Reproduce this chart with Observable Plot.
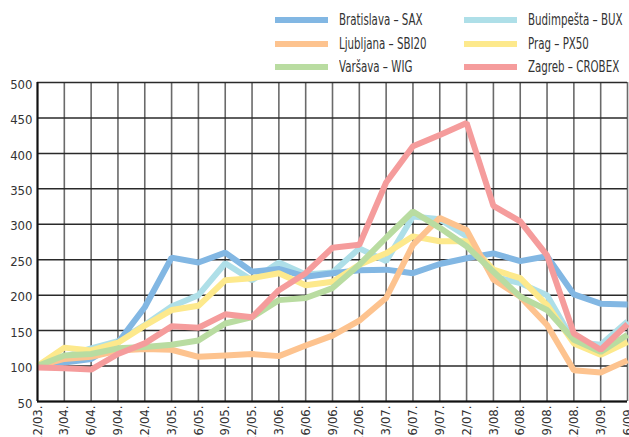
<!DOCTYPE html>
<html>
<head>
<meta charset="utf-8">
<script src="https://cdn.jsdelivr.net/npm/d3@7"></script>
<script src="https://cdn.jsdelivr.net/npm/@observablehq/plot@0.6"></script>
<style>
  html, body { margin: 0; padding: 0; background: #fff; }
  #wrap { width: 629px; height: 437px; overflow: hidden; position: relative; }
  #legend { position: relative; width: 629px; height: 74px; font-family: "Liberation Sans Narrow", "DejaVu Sans Condensed", "Liberation Sans", sans-serif; font-size: 15px; color: #333; }
  .item { position: absolute; display: flex; align-items: center; height: 20px; white-space: nowrap; }
  .sw { width: 53px; height: 6px; margin-right: 11px; flex: none; }
  .lbl { display: inline-block; transform: scaleX(0.76); transform-origin: left center; }
</style>
</head>
<body>
<div id="wrap">
  <div id="legend"></div>
  <div id="chart"></div>
</div>
<script>
const periods = ["12/03.","3/04.","6/04.","9/04.","12/04.","3/05.","6/05.","9/05.","12/05.","3/06.","6/06.","9/06.","12/06.","3/07.","6/07.","9/07.","12/07.","3/08.","6/08.","9/08.","12/08.","3/09.","6/09."];

const seriesNames = ["Bratislava – SAX","Ljubljana – SBI20","Varšava – WIG","Budimpešta – BUX","Prag – PX50","Zagreb – CROBEX"];
const seriesColors = ["#82b7e3","#fdc38f","#b9dca1","#aedfe8","#fde98c","#f59c9c"];

const bratislava = [100,105,110,133,183,253,246,260,233,237,226,231,235,236,231,244,252,259,248,255,201,188,187];
const ljubljana  = [100,110,113,122,124,123,113,115,117,114,129,143,164,196,271,309,292,222,198,158,94,91,108];
const varsava    = [100,115,117,125,127,130,136,160,169,193,196,210,243,281,318,295,269,233,198,179,137,120,144];
const budimpesta = [100,113,125,135,158,184,200,245,221,246,229,232,266,248,311,307,283,226,217,200,134,130,163];
const prag       = [100,126,122,133,157,179,185,221,224,231,214,219,243,259,283,276,276,236,224,186,132,116,134];
const zagreb     = [98,97,95,117,132,156,154,173,169,207,231,267,271,359,410,426,443,326,304,256,146,123,159];

const yTicks = [50,100,150,200,250,300,350,400,450,500];

const seriesValues = [bratislava, ljubljana, varsava, budimpesta, prag, zagreb];
// drawing order (bottom to top)
const drawOrder = [3, 0, 4, 1, 2, 5];

// Legend
const legend = document.getElementById("legend");
const legendPos = [[275,10],[275,33.5],[275,57],[464,10],[464,33.5],[464,57]];
seriesNames.forEach((name, i) => {
  const d = document.createElement("div");
  d.className = "item";
  d.style.left = legendPos[i][0] + "px";
  d.style.top = legendPos[i][1] + "px";
  d.innerHTML = `<div class="sw" style="background:${seriesColors[i]}"></div><span class="lbl">${name}</span>`;
  legend.appendChild(d);
});

const xIdx = periods.map((p, i) => i);
const data = [];
drawOrder.forEach(si => {
  seriesValues[si].forEach((v, j) => data.push({series: seriesNames[si], xi: j, value: v, order: si}));
});

const chart = Plot.plot({
  width: 629,
  height: 363,
  marginLeft: 37,
  marginRight: 2,
  marginTop: 8,
  marginBottom: 36,
  style: {fontFamily: '"Liberation Sans Narrow", "DejaVu Sans Condensed", "Liberation Sans", sans-serif', fontSize: "13px", color: "#333", background: "#fff"},
  x: {type: "linear", domain: [0, periods.length - 1], range: [37, 627]},
  y: {domain: [50, 500], range: [327, 8]},
  color: {domain: seriesNames, range: seriesColors},
  marks: [
    Plot.gridX(xIdx, {stroke: "#6a6a6a", strokeOpacity: 1, strokeWidth: 1.6}),
    Plot.gridY(yTicks, {stroke: "#2a2a2a", strokeOpacity: 1, strokeWidth: 1.5}),
    ...drawOrder.map(si => Plot.line(data.filter(d => d.order === si), {
      x: "xi", y: "value", stroke: "series", strokeWidth: 6,
      strokeLinejoin: "miter", strokeLinecap: "butt"
    })),
    Plot.ruleY([50], {stroke: "#111", strokeWidth: 2}),
    Plot.ruleX([0], {stroke: "#111", strokeWidth: 2}),
    Plot.axisY(yTicks, {tickSize: 0, tickPadding: 5, label: null, dy: 2, fontSize: 13}),
    Plot.axisX(xIdx, {tickSize: 0, tickPadding: 4, tickRotate: -90, label: null, fontSize: 13, tickFormat: i => periods[i]})
  ]
});
document.getElementById("chart").appendChild(chart);
</script>
</body>
</html>
